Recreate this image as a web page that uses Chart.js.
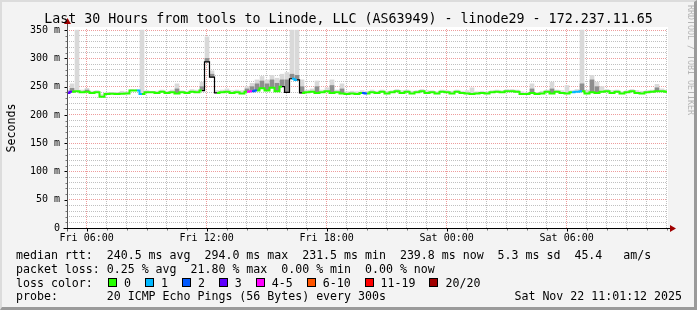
<!DOCTYPE html>
<html>
<head>
<meta charset="utf-8">
<script src="https://cdn.jsdelivr.net/npm/chart.js@4"></script>
<style>
body { margin: 0; background: #f3f3f3; }
#wrap { position: relative; width: 697px; height: 310px; overflow: hidden; background: #f3f3f3;
        font-family: "DejaVu Sans Mono", monospace; color: #000; }
#frame { position: absolute; left: 0; top: 0; width: 697px; height: 310px; box-sizing: border-box;
         border-style: solid; border-width: 2px 3px 3px 2px;
         border-color: #dcdcdc #9a9a9a #9a9a9a #dcdcdc; pointer-events: none; }
canvas { position: absolute; left: 0; top: 0; }
.t { position: absolute; white-space: pre; font-size: 11.6px; line-height: 14px; }
.sw { display: inline-block; width: 7px; height: 7px; border: 1px solid #000; margin-right: 7px; }
</style>
</head>
<body>
<div id="wrap">
  <canvas id="ping" width="697" height="310"></canvas>
  <div class="t" id="title" style="left:0;width:697px;top:10.5px;text-align:center;font-size:13.3px;line-height:16px;"></div>
  <div class="t" id="ytitle" style="left:-39.5px;top:121px;width:100px;text-align:center;transform:rotate(-90deg);">Seconds</div>
  <div class="t" style="left:684px;top:5px;font-size:8.3px;color:#b4b4b4;writing-mode:vertical-rl;">RRDTOOL / TOBI OETIKER</div>
  <div class="t" id="l1" style="left:16px;top:247.5px;"></div>
  <div class="t" id="l2" style="left:16px;top:261.5px;"></div>
  <div class="t" style="left:16px;top:275.5px;">loss color:</div>
  <div class="t" id="l3" style="left:108px;top:275.5px;"></div>
  <div class="t" id="l4" style="left:16px;top:289px;"></div>
  <div class="t" id="l5" style="right:15px;top:289px;"></div>
  <div id="frame"></div>
</div>
<script>
// titre et légende
var titleText = "Last 30 Hours from tools to Linode, LLC (AS63949) - linode29 - 172.237.11.65";
var rttLine = "median rtt:  240.5 ms avg  294.0 ms max  231.5 ms min  239.8 ms now  5.3 ms sd  45.4   am/s";
var lossLine = "packet loss: 0.25 % avg  21.80 % max  0.00 % min  0.00 % now";
var probeLine = "probe:       20 ICMP Echo Pings (56 Bytes) every 300s";
var stampText = "Sat Nov 22 11:01:12 2025";

// axe du temps (minutes depuis Ven 00:00), un point toutes les 15 min
var startMin = 301;
var endMin = 2101;
var stepMin = 15;
var xTickValues = [360, 720, 1080, 1440, 1800];
var xTickLabels = ["Fri 06:00", "Fri 12:00", "Fri 18:00", "Sat 00:00", "Sat 06:00"];
var yTickValues = [0, 50, 100, 150, 200, 250, 300, 350];
var yTickLabels = ["0", "50 m", "100 m", "150 m", "200 m", "250 m", "300 m", "350 m"];

// rtt médian (ms)
var median = [
  239, 241, 242, 240, 241, 239, 240, 232, 237, 237.5,
  237, 237.5, 238, 243, 243, 237, 240, 240, 239, 241,
  239, 240, 238, 240, 239, 241, 240, 243, 294, 267,
  239, 240, 241, 239, 240, 238, 241, 242, 243, 247,
  243, 248, 242, 250, 240, 264, 262, 239, 240, 241,
  239, 240, 242, 239, 240, 238, 237, 238, 237, 239,
  238, 240, 239, 241, 238, 240, 242, 239, 241, 238,
  240, 242, 239, 240, 238, 241, 240, 238, 241, 239,
  238, 237, 238, 239, 238, 240, 241, 240, 242, 242,
  241, 237, 237, 239, 237, 238, 241, 238, 241, 239,
  238, 240, 241, 242, 238, 240, 239, 241, 242, 239,
  241, 238, 240, 242, 239, 238, 240, 241, 242, 242,
  241
];

// pings perdus sur 20
var loss = [
  0, 3, 0, 0, 0, 0, 0, 0, 0, 0,
  0, 0, 0, 0, 0, 1, 0, 0, 0, 0,
  0, 0, 0, 0, 0, 0, 0, 0, 0, 0,
  0, 0, 0, 0, 0, 0, 0, 4, 2, 0,
  0, 0, 0, 0, 1, 1, 1, 0, 0, 0,
  0, 0, 0, 0, 0, 0, 0, 0, 0, 0,
  2, 0, 0, 0, 0, 0, 0, 0, 0, 0,
  0, 0, 0, 0, 0, 0, 0, 0, 0, 0,
  0, 0, 0, 0, 0, 0, 0, 0, 0, 0,
  0, 0, 0, 0, 0, 0, 0, 0, 0, 0,
  0, 0, 1, 1, 0, 0, 0, 0, 0, 0,
  0, 0, 0, 0, 0, 0, 0, 0, 0, 0,
  0
];

// fumée : ping le plus lent (ms)
var smokeMax = [
  243, 255, 350, 244, 247, 242, 243, 236, 240, 240,
  240, 242, 241, 245, 245, 350, 243, 242, 242, 244,
  242, 244, 255, 243, 242, 245, 244, 258, 338, 278,
  243, 244, 246, 243, 244, 243, 250, 256, 262, 268,
  262, 270, 265, 272, 275, 350, 350, 262, 244, 246,
  260, 244, 248, 262, 244, 255, 241, 242, 241, 243,
  242, 244, 242, 244, 242, 243, 245, 243, 244, 242,
  243, 245, 243, 243, 241, 244, 243, 242, 244, 242,
  243, 248, 241, 242, 241, 243, 244, 243, 245, 245,
  244, 241, 240, 255, 240, 242, 244, 258, 244, 243,
  252, 243, 245, 350, 244, 270, 258, 250, 245, 243,
  244, 241, 243, 245, 243, 242, 243, 244, 254, 246,
  244
];

// fumée : partie dense (ms), null = rien
var smokeDark = [
  null, 247, null, null, 244, null, null, null, null, null,
  null, null, null, null, null, null, null, null, null, null,
  null, null, 246, null, null, null, null, 250, 300, 272,
  null, null, null, null, null, null, 246, 250, 255, 260,
  255, 262, 256, 262, 262, 272, 270, 250, null, null,
  250, null, null, 252, null, 246, null, null, null, null,
  null, null, null, null, null, null, null, null, null, null,
  null, null, null, null, null, null, null, null, null, null,
  null, null, null, null, null, null, null, null, null, null,
  null, null, null, 246, null, null, null, 246, null, null,
  null, null, null, 255, null, 262, 250, null, null, null,
  null, null, null, null, null, null, null, null, 248, null,
  null
];

// couleurs de perte
var lossBins = [0, 1, 2, 3, 5, 10, 19, 20];
var lossLabels = ["0", "1", "2", "3", "4-5", "6-10", "11-19", "20/20"];
var lossColors = ["#26ff00", "#00b8ff", "#0059ff", "#5e00ff", "#ff00ff", "#ff5500", "#ff0000", "#a10000"];

function lossColor(n) {
    for (var k = 0; k < lossBins.length; k++) {
        if (n <= lossBins[k]) return lossColors[k];
    }
    return lossColors[lossColors.length - 1];
}

// textes
document.getElementById("title").textContent = titleText;
document.getElementById("l1").textContent = rttLine;
document.getElementById("l2").textContent = lossLine;
document.getElementById("l4").textContent = probeLine;
document.getElementById("l5").textContent = stampText;
var l3 = document.getElementById("l3");
lossLabels.forEach(function (lab, k) {
    var sw = document.createElement("span");
    sw.className = "sw";
    sw.style.background = lossColors[k];
    l3.appendChild(sw);
    l3.appendChild(document.createTextNode(lab + "  "));
});

var times = median.map(function (m, i) { return startMin + i * stepMin; });

// fond blanc, axes et flèches
var frameParts = {
    id: "frameParts",
    beforeDraw: function (chart) {
        var a = chart.chartArea, ctx = chart.ctx;
        ctx.save();
        ctx.fillStyle = "#ffffff";
        ctx.fillRect(a.left, a.top - 2, a.right - a.left + 1, a.bottom - a.top + 2);
        ctx.restore();
    },
    afterDraw: function (chart) {
        var a = chart.chartArea, ctx = chart.ctx, y = chart.scales.y, x = chart.scales.x;
        var L = Math.round(a.left) + 0.5, B = Math.round(a.bottom) + 0.5;
        ctx.save();
        ctx.lineWidth = 1;
        // petites graduations
        y.ticks.forEach(function (t) {
            var py = Math.round(y.getPixelForValue(t.value)) + 0.5;
            ctx.strokeStyle = t.value % 50 === 0 ? "#000" : "#777";
            ctx.beginPath(); ctx.moveTo(L - (t.value % 50 === 0 ? 3 : 2), py); ctx.lineTo(L, py); ctx.stroke();
        });
        x.ticks.forEach(function (t) {
            var px = Math.round(x.getPixelForValue(t.value)) + 0.5;
            ctx.strokeStyle = t.value % 360 === 0 ? "#000" : "#777";
            ctx.beginPath(); ctx.moveTo(px, B); ctx.lineTo(px, B + (t.value % 360 === 0 ? 3 : 2)); ctx.stroke();
        });
        ctx.strokeStyle = "#555";
        ctx.beginPath(); ctx.moveTo(L, B + 3); ctx.lineTo(L, a.top - 6); ctx.stroke();
        ctx.strokeStyle = "#000";
        ctx.beginPath(); ctx.moveTo(L - 4, B); ctx.lineTo(a.right + 4, B); ctx.stroke();
        ctx.fillStyle = "#a00000";
        ctx.beginPath(); ctx.moveTo(L - 3.5, a.top - 5); ctx.lineTo(L + 3.5, a.top - 5); ctx.lineTo(L, a.top - 11); ctx.closePath(); ctx.fill();
        ctx.beginPath(); ctx.moveTo(a.right + 3, B - 3.5); ctx.lineTo(a.right + 3, B + 3.5); ctx.lineTo(a.right + 9, B); ctx.closePath(); ctx.fill();
        ctx.restore();
    }
};

function bigJump(c) {
    return Math.abs(c.p1.parsed.y - c.p0.parsed.y) > 8;
}

var tickFont = { family: "DejaVu Sans Mono", size: 10 };
var ctx = document.getElementById("ping").getContext("2d");
var pingChart = new Chart(ctx, {
    type: "line",
    data: {
        datasets: [
            {
                type: "line",
                label: "median",
                order: 0,
                data: median.map(function (m, i) { return { x: times[i], y: m }; }),
                borderWidth: 2,
                pointRadius: 0,
                stepped: "middle",
                fill: false,
                borderColor: "#26ff00",
                segment: {
                    borderColor: function (c) {
                        return bigJump(c) ? "#000000" : lossColor(loss[c.p1DataIndex]);
                    },
                    borderWidth: function (c) {
                        return bigJump(c) ? 1.2 : 2;
                    }
                }
            },
            {
                type: "bar",
                label: "smoke dense",
                order: 1,
                grouped: false,
                barThickness: 4,
                backgroundColor: "#8e8e8e",
                data: median.map(function (m, i) { return { x: times[i], y: smokeDark[i] === null ? null : [m, smokeDark[i]] }; })
            },
            {
                type: "bar",
                label: "smoke",
                order: 2,
                grouped: false,
                barThickness: 4,
                backgroundColor: "#d9d9d9",
                data: median.map(function (m, i) { return { x: times[i], y: [m, smokeMax[i]] }; })
            }
        ]
    },
    options: {
        responsive: false,
        animation: false,
        events: [],
        layout: { padding: { left: 0, top: 29, right: 30, bottom: 0 } },
        plugins: { legend: { display: false }, tooltip: { enabled: false } },
        scales: {
            x: {
                type: "linear",
                min: startMin,
                max: endMin,
                offset: false,
                afterBuildTicks: function (s) {
                    var t = [];
                    for (var v = 360; v <= 2100; v += 60) t.push({ value: v });
                    s.ticks = t;
                },
                afterFit: function (s) { s.height = 82; },
                ticks: {
                    autoSkip: false, maxRotation: 0, padding: 4, color: "#000", font: tickFont,
                    callback: function (v) { var k = xTickValues.indexOf(v); return k < 0 ? "" : xTickLabels[k]; }
                },
                grid: {
                    offset: false,
                    drawTicks: false,
                    color: function (c) { return c.tick.value % 360 === 0 ? "rgba(225,90,90,0.6)" : "rgba(150,150,150,0.6)"; }
                },
                border: { display: false, dash: [1, 1] }
            },
            y: {
                min: 0,
                max: 352,
                afterBuildTicks: function (s) {
                    var t = [];
                    for (var v = 0; v <= 350; v += 10) t.push({ value: v });
                    s.ticks = t;
                },
                afterFit: function (s) { s.width = 67; },
                ticks: {
                    autoSkip: false, padding: 7, color: "#000", font: tickFont,
                    callback: function (v) { var k = yTickValues.indexOf(v); return k < 0 ? "" : yTickLabels[k]; }
                },
                grid: {
                    drawTicks: false,
                    color: function (c) {
                        if (c.tick.value === 0) return "rgba(0,0,0,0)";
                        return c.tick.value % 50 === 0 ? "rgba(225,90,90,0.6)" : "rgba(150,150,150,0.6)";
                    }
                },
                border: { display: false, dash: [1, 1] }
            }
        }
    },
    plugins: [frameParts]
});
</script>
</body>
</html>
